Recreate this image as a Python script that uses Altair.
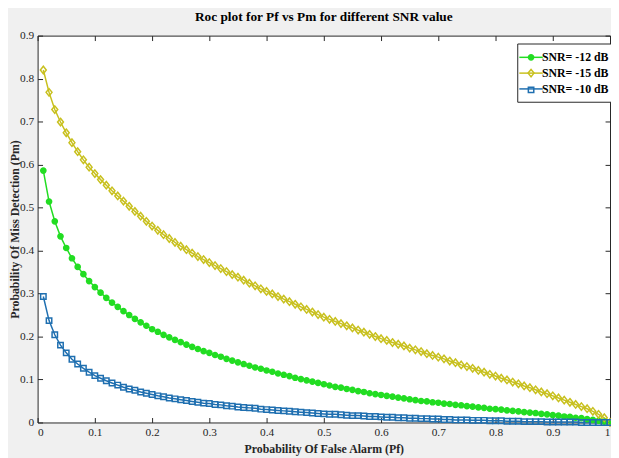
import altair as alt
import pandas as pd

# Probability of false alarm grid (0.01 ... 1.00)
pf = [round(0.01 * i, 2) for i in range(1, 101)]

series_names = ["SNR= -12 dB", "SNR= -15 dB", "SNR= -10 dB"]
series_colors = ["#22dd22", "#c8c01e", "#1f6fb0"]

# Probability of miss detection
pm_m12 = [
    0.586, 0.514, 0.468, 0.433, 0.406, 0.382, 0.362, 0.345, 0.329, 0.315,
    0.302, 0.290, 0.279, 0.269, 0.259, 0.250, 0.241, 0.233, 0.225, 0.217,
    0.211, 0.204, 0.198, 0.192, 0.187, 0.181, 0.176, 0.171, 0.166, 0.162,
    0.157, 0.153, 0.148, 0.144, 0.140, 0.136, 0.132, 0.128, 0.125, 0.121,
    0.118, 0.114, 0.111, 0.108, 0.104, 0.101, 0.098, 0.095, 0.092, 0.089,
    0.086, 0.083, 0.081, 0.078, 0.076, 0.073, 0.071, 0.068, 0.066, 0.064,
    0.062, 0.060, 0.058, 0.056, 0.054, 0.052, 0.050, 0.049, 0.047, 0.046,
    0.044, 0.043, 0.041, 0.040, 0.038, 0.037, 0.035, 0.034, 0.032, 0.031,
    0.030, 0.028, 0.027, 0.026, 0.024, 0.023, 0.022, 0.020, 0.019, 0.017,
    0.016, 0.014, 0.013, 0.011, 0.010, 0.008, 0.006, 0.004, 0.002, 0.000,
]
pm_m15 = [
    0.820, 0.768, 0.728, 0.699, 0.674, 0.651, 0.630, 0.611, 0.594, 0.579,
    0.565, 0.552, 0.539, 0.527, 0.515, 0.503, 0.491, 0.480, 0.468, 0.457,
    0.447, 0.437, 0.428, 0.419, 0.410, 0.402, 0.394, 0.386, 0.379, 0.372,
    0.365, 0.358, 0.351, 0.344, 0.338, 0.331, 0.324, 0.318, 0.311, 0.305,
    0.299, 0.293, 0.287, 0.281, 0.275, 0.269, 0.263, 0.257, 0.251, 0.245,
    0.240, 0.235, 0.230, 0.225, 0.220, 0.215, 0.210, 0.205, 0.200, 0.195,
    0.191, 0.186, 0.182, 0.178, 0.173, 0.169, 0.165, 0.160, 0.156, 0.152,
    0.148, 0.143, 0.139, 0.134, 0.130, 0.126, 0.121, 0.117, 0.112, 0.108,
    0.103, 0.099, 0.094, 0.090, 0.085, 0.081, 0.076, 0.071, 0.067, 0.062,
    0.057, 0.052, 0.047, 0.042, 0.037, 0.032, 0.026, 0.019, 0.011, 0.000,
]
pm_m10 = [
    0.293, 0.237, 0.204, 0.180, 0.162, 0.147, 0.136, 0.126, 0.117, 0.109,
    0.103, 0.097, 0.092, 0.087, 0.082, 0.078, 0.075, 0.071, 0.068, 0.065,
    0.062, 0.060, 0.057, 0.055, 0.053, 0.051, 0.049, 0.047, 0.045, 0.044,
    0.042, 0.041, 0.039, 0.038, 0.036, 0.035, 0.034, 0.033, 0.031, 0.030,
    0.029, 0.028, 0.027, 0.026, 0.025, 0.024, 0.023, 0.022, 0.021, 0.020,
    0.019, 0.019, 0.018, 0.017, 0.016, 0.016, 0.015, 0.014, 0.014, 0.013,
    0.012, 0.012, 0.011, 0.011, 0.010, 0.010, 0.009, 0.009, 0.008, 0.008,
    0.007, 0.007, 0.006, 0.006, 0.006, 0.005, 0.005, 0.005, 0.004, 0.004,
    0.004, 0.003, 0.003, 0.003, 0.002, 0.002, 0.002, 0.002, 0.001, 0.001,
    0.001, 0.001, 0.001, 0.001, 0.000, 0.000, 0.000, 0.000, 0.000, 0.000,
]

x_ticks = [0, 0.1, 0.2, 0.3, 0.4, 0.5, 0.6, 0.7, 0.8, 0.9, 1]
y_ticks = [0, 0.1, 0.2, 0.3, 0.4, 0.5, 0.6, 0.7, 0.8, 0.9]

rows = []
for name, vals in zip(series_names, [pm_m12, pm_m15, pm_m10]):
    for x, y in zip(pf, vals):
        rows.append({"pf": x, "pm": y, "snr": name, "snr_line": name})
df = pd.DataFrame(rows)

FONT = "Liberation Serif, Times New Roman, Times, serif"
TICK = "#262626"
SYM = 156.25  # sqrt(size)/2 = 6.25 px per path unit

marker_paths = [
    "M0.42,0A0.42,0.42 0 1,1 -0.42,0A0.42,0.42 0 1,1 0.42,0Z",
    "M0,-0.6L0.48,0L0,0.6L-0.48,0Z",
    "M-0.44,-0.44H0.44V0.44H-0.44Z",
]
fill_range = ["#22dd22", "transparent", "transparent"]

xs = alt.Scale(domain=[0, 1], nice=False, zero=False)
ys = alt.Scale(domain=[0, 0.9], nice=False, zero=False)

common_axis = dict(
    grid=False, domain=False, tickColor=TICK, tickSize=5, tickWidth=1,
    offset=-5, labelFont=FONT, labelFontSize=11.5, labelColor=TICK,
    titleFont=FONT, titleFontSize=12, titleFontWeight="bold", titleColor=TICK,
    format="~g",
)

leg_common = dict(
    title=None, orient="none", legendX=486, legendY=8, padding=7,
    symbolSize=SYM, symbolStrokeWidth=1.5, labelOffset=4, rowPadding=3,
    labelFont=FONT, labelFontSize=12, labelFontWeight="bold", labelColor="black",
)

lines = alt.Chart(df).mark_line(strokeWidth=1.5).encode(
    x=alt.X("pf:Q", scale=xs, axis=alt.Axis(
        orient="bottom", values=x_ticks, labelPadding=4,
        title="Probability Of False Alarm (Pf)", titlePadding=6, **common_axis)),
    y=alt.Y("pm:Q", scale=ys, axis=alt.Axis(
        orient="left", values=y_ticks, labelPadding=4,
        title="Probability Of Miss Detection (Pm)", titlePadding=-2, **common_axis)),
    stroke=alt.Stroke("snr_line:N",
                      scale=alt.Scale(range=series_colors),
                      sort=series_names,
                      legend=alt.Legend(symbolType="M-1.9,0H1.9",
                                        fillColor="white", strokeColor=TICK,
                                        zindex=1, **leg_common)),
)

pt_leg = dict(zindex=2, labelExpr="''", **leg_common)

points = alt.Chart(df).mark_point(filled=False, strokeWidth=1.5, opacity=1).encode(
    x=alt.X("pf:Q", scale=xs, axis=alt.Axis(
        orient="top", values=x_ticks, labels=False, title=None, **common_axis)),
    y=alt.Y("pm:Q", scale=ys, axis=alt.Axis(
        orient="right", values=y_ticks, labels=False, title=None, **common_axis)),
    color=alt.Color("snr:N",
                    scale=alt.Scale(domain=series_names, range=series_colors),
                    sort=series_names, legend=alt.Legend(**pt_leg)),
    fill=alt.Fill("snr:N",
                  scale=alt.Scale(domain=series_names, range=fill_range),
                  sort=series_names, legend=alt.Legend(**pt_leg)),
    shape=alt.Shape("snr:N",
                    scale=alt.Scale(domain=series_names, range=marker_paths),
                    sort=series_names, legend=alt.Legend(**pt_leg)),
    size=alt.value(SYM),
)

chart = alt.layer(lines, points).resolve_axis(
    x="independent", y="independent"
).properties(
    width=580, height=392,
    title=alt.Title("Roc plot for Pf vs Pm for different SNR value",
                    font=FONT, fontSize=13.5, fontWeight="bold", color="black",
                    anchor="middle", offset=6),
    autosize=alt.AutoSizeParams(type="none"),
    padding={"left": 30, "top": 25, "right": 1, "bottom": 33},
    background="#f0f0f0",
).configure_view(stroke=TICK, strokeWidth=1, fill="white")

chart.save("out.html", embed_options={"renderer": "svg", "actions": False})
